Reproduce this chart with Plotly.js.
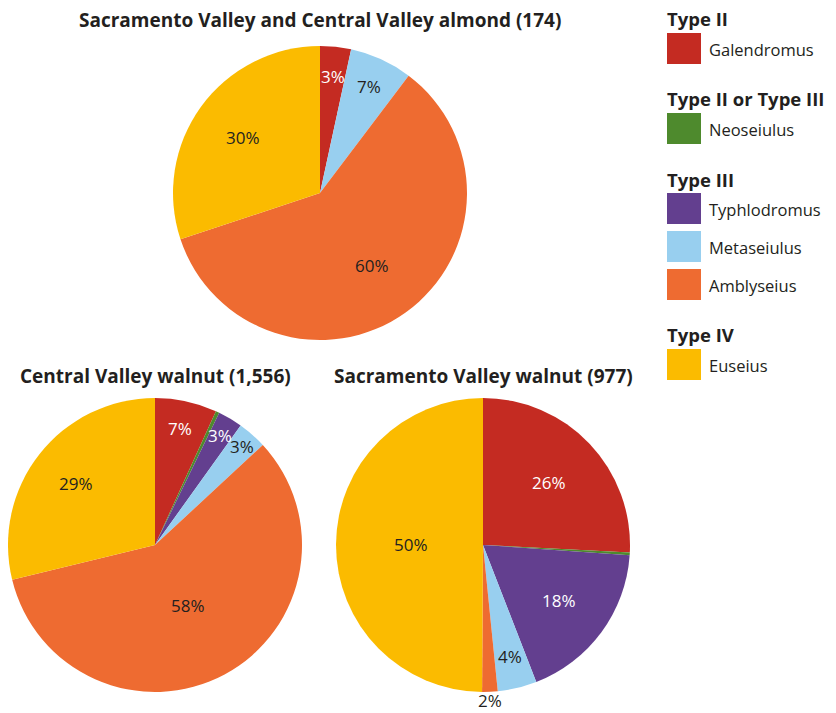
<!DOCTYPE html>
<html>
<head>
<meta charset="utf-8">
<script src="https://cdn.plot.ly/plotly-3.0.1.min.js"></script>
<style>html,body{margin:0;padding:0;background:#fff;}#chart{width:836px;height:713px;}</style>
</head>
<body>
<div id="chart"></div>
<script>
// ---- data ----
const categories = ['Galendromus', 'Neoseiulus', 'Typhlodromus', 'Metaseiulus', 'Amblyseius', 'Euseius'];
const almondValues = [3.4, 0, 0, 6.9, 59.6, 30.1];
const cvWalnutValues = [6.8, 0.4, 2.7, 3.2, 58.1, 28.8];
const svWalnutValues = [25.8, 0.3, 18.0, 4.3, 1.7, 49.9];
const pieTitles = ['Sacramento Valley and Central Valley almond (174)', 'Central Valley walnut (1,556)', 'Sacramento Valley walnut (977)'];
const groupTitles = ['Type II', 'Type II or Type III', 'Type III', 'Type IV'];
const groupMembers = [['Galendromus'], ['Neoseiulus'], ['Typhlodromus', 'Metaseiulus', 'Amblyseius'], ['Euseius']];

// ---- style ----
const colors = ['#c42b22', '#4e8a2d', '#633f8f', '#98cfef', '#ee6b31', '#fbbb00'];
const whiteText = [true, true, true, false, false, false];
const W = 836, H = 713;
const R = 147;
const pieCenters = [[320, 193], [155, 545], [483, 545]];
const labelRadius = [
  [0.80, 0, 0, 0.80, 0.61, 0.65],
  [0.81, 0, 0.87, 0.89, 0.47, 0.68],
  [0.62, 0, 0.64, 0.78, 1.06, 0.49]
];
const textDark = '#231f20';
const bodyFont = 'Open Sans, Noto Sans, sans-serif';

const allValues = [almondValues, cvWalnutValues, svWalnutValues];
const traces = [];
const annotations = [];
const shapes = [];

allValues.forEach((vals, i) => {
  const [cx, cy] = pieCenters[i];
  traces.push({
    type: 'pie',
    labels: categories,
    values: vals,
    sort: false,
    direction: 'clockwise',
    rotation: 0,
    textinfo: 'none',
    showlegend: false,
    marker: {colors: colors, line: {width: 0}},
    domain: {x: [(cx - R) / W, (cx + R) / W], y: [1 - (cy + R) / H, 1 - (cy - R) / H]}
  });
  // percentage labels, computed from the data
  const total = vals.reduce((a, b) => a + b, 0);
  let cum = 0;
  vals.forEach((v, j) => {
    const mid = (cum + v / 2) / total * 2 * Math.PI;
    cum += v;
    if (v < 1) return;
    const rr = labelRadius[i][j] * R;
    const px = cx + rr * Math.sin(mid);
    const py = cy - rr * Math.cos(mid);
    const outside = labelRadius[i][j] > 1;
    annotations.push({
      xref: 'paper', yref: 'paper', x: px / W, y: 1 - py / H,
      xanchor: 'center', yanchor: 'middle', showarrow: false,
      text: Math.round(v / total * 100) + '%',
      font: {family: bodyFont, size: 17, color: (whiteText[j] && !outside) ? '#ffffff' : textDark}
    });
  });
  annotations.push({
    xref: 'paper', yref: 'paper', x: cx / W, y: 1 - (i === 0 ? 20 : 376) / H,
    xanchor: 'center', yanchor: 'middle', showarrow: false,
    text: '<b>' + pieTitles[i] + '</b>',
    font: {family: bodyFont, size: 19, color: textDark}
  });
});

// ---- custom grouped legend ----
let y = 19;
const sqX0 = 667, sqX1 = 701, sqH = 31;
groupTitles.forEach((gt, g) => {
  annotations.push({
    xref: 'paper', yref: 'paper', x: (sqX0 - 2) / W, y: 1 - y / H,
    xanchor: 'left', yanchor: 'middle', showarrow: false,
    text: '<b>' + gt + '</b>', font: {family: bodyFont, size: 18.5, color: textDark}
  });
  let top = y + 14;
  groupMembers[g].forEach((name, k) => {
    const ci = categories.indexOf(name);
    shapes.push({
      type: 'rect', xref: 'paper', yref: 'paper',
      x0: sqX0 / W, x1: sqX1 / W, y0: 1 - (top + sqH) / H, y1: 1 - top / H,
      fillcolor: colors[ci], line: {width: 0}
    });
    annotations.push({
      xref: 'paper', yref: 'paper', x: 707 / W, y: 1 - (top + sqH / 2 + 1) / H,
      xanchor: 'left', yanchor: 'middle', showarrow: false,
      text: name, font: {family: bodyFont, size: 16.5, color: textDark}
    });
    if (k < groupMembers[g].length - 1) top += 38;
  });
  y = top + 66;
});

const layout = {
  width: W, height: H,
  margin: {l: 0, r: 0, t: 0, b: 0},
  paper_bgcolor: '#ffffff',
  plot_bgcolor: '#ffffff',
  showlegend: false,
  annotations: annotations,
  shapes: shapes,
  font: {family: bodyFont, color: textDark}
};

Plotly.newPlot('chart', traces, layout, {displayModeBar: false, staticPlot: true});
</script>
</body>
</html>
